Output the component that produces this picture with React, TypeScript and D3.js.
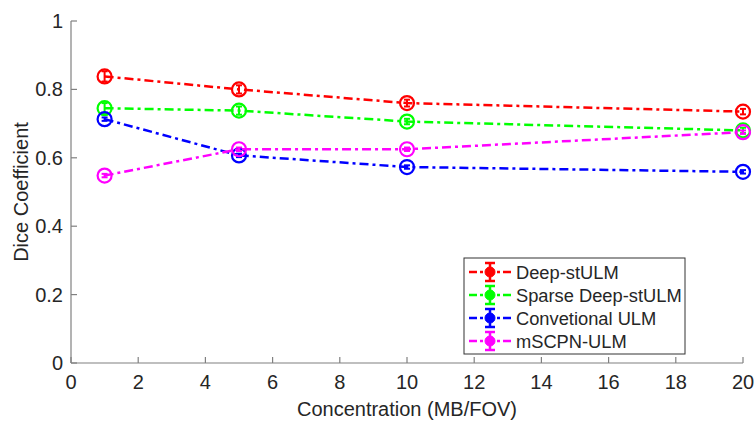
import React from "react";
import * as d3 from "d3";

const concentrations = [1, 5, 10, 20];
const seriesNames = ["Deep-stULM", "Sparse Deep-stULM", "Convetional ULM", "mSCPN-ULM"];
const seriesColors = ["#ff0000", "#00ff00", "#0000ff", "#ff00ff"];
const deepStULM = [0.838, 0.800, 0.760, 0.735];
const sparseDeepStULM = [0.745, 0.738, 0.706, 0.680];
const conventionalULM = [0.713, 0.607, 0.573, 0.559];
const mscpnULM = [0.548, 0.625, 0.625, 0.675];
const deepErr = [0.015, 0.012, 0.010, 0.008];
const sparseErr = [0.015, 0.012, 0.008, 0.008];
const convErr = [0.005, 0.005, 0.005, 0.005];
const mscpnErr = [0.005, 0.005, 0.005, 0.005];
const xTicks = [0, 2, 4, 6, 8, 10, 12, 14, 16, 18, 20];
const yTicks = [0, 0.2, 0.4, 0.6, 0.8, 1];

const allValues = [deepStULM, sparseDeepStULM, conventionalULM, mscpnULM];
const allErrs = [deepErr, sparseErr, convErr, mscpnErr];

const W = 756, H = 423;
const m = { left: 71, right: 13, top: 21, bottom: 60 };
const font = "'Liberation Sans', Arial, sans-serif";
const textColor = "#262626";
const axisColor = "#808080";

export default function App() {
  const x = d3.scaleLinear().domain([0, 20]).range([m.left, W - m.right]);
  const y = d3.scaleLinear().domain([0, 1]).range([H - m.bottom, m.top]);
  const line = d3.line<number>().x((_, i) => x(concentrations[i])).y((d) => y(d));
  const dash = "9,4,3,4";
  const r = 7;
  const legendX = 464, legendY = 258, legendW = 221, legendH = 96;
  return (
    <svg width={W} height={H} style={{ position: "absolute", left: 0, top: 0, background: "#fff" }}>
      {/* axes */}
      <line x1={x(0)} x2={x(20)} y1={y(0)} y2={y(0)} stroke={axisColor} strokeWidth={1.2} />
      <line x1={x(0)} x2={x(0)} y1={y(0)} y2={y(1)} stroke={axisColor} strokeWidth={1.2} />
      {xTicks.map((t) => (
        <g key={"x" + t}>
          <line x1={x(t)} x2={x(t)} y1={y(0)} y2={y(0) - 6} stroke={axisColor} strokeWidth={1.2} />
          <text x={x(t)} y={y(0) + 26} textAnchor="middle" fontFamily={font} fontSize={20} fill={textColor}>{t}</text>
        </g>
      ))}
      {yTicks.map((t) => (
        <g key={"y" + t}>
          <line x1={x(0)} x2={x(0) + 6} y1={y(t)} y2={y(t)} stroke={axisColor} strokeWidth={1.2} />
          <text x={x(0) - 8} y={y(t) + 7} textAnchor="end" fontFamily={font} fontSize={20} fill={textColor}>{t}</text>
        </g>
      ))}
      <text x={(x(0) + x(20)) / 2} y={416} textAnchor="middle" fontFamily={font} fontSize={20} fill={textColor}>Concentration (MB/FOV)</text>
      <text transform={`translate(28,${(y(0) + y(1)) / 2}) rotate(-90)`} textAnchor="middle" fontFamily={font} fontSize={20} fill={textColor}>Dice Coefficient</text>
      {/* series */}
      {allValues.map((vals, si) => (
        <g key={"s" + si}>
          <path d={line(vals) || ""} fill="none" stroke={seriesColors[si]} strokeWidth={2.5} strokeDasharray={dash} />
          {vals.map((v, i) => {
            const e = allErrs[si][i];
            const cx = x(concentrations[i]);
            return (
              <g key={i}>
                <line x1={cx} x2={cx} y1={y(v - e)} y2={y(v + e)} stroke={seriesColors[si]} strokeWidth={2} />
                <line x1={cx - 3} x2={cx + 3} y1={y(v - e)} y2={y(v - e)} stroke={seriesColors[si]} strokeWidth={2} />
                <line x1={cx - 3} x2={cx + 3} y1={y(v + e)} y2={y(v + e)} stroke={seriesColors[si]} strokeWidth={2} />
                <circle cx={cx} cy={y(v)} r={r} fill="none" stroke={seriesColors[si]} strokeWidth={2.2} />
              </g>
            );
          })}
        </g>
      ))}
      {/* legend */}
      <rect x={legendX} y={legendY} width={legendW} height={legendH} fill="#fff" stroke="#333" strokeWidth={1} />
      {seriesNames.map((n, i) => {
        const ly = legendY + 14 + i * 23;
        const c = seriesColors[i];
        return (
          <g key={"l" + i}>
            <line x1={legendX + 5} x2={legendX + 47} y1={ly} y2={ly} stroke={c} strokeWidth={2.5} strokeDasharray="8,3,3,3" />
            <line x1={legendX + 26} x2={legendX + 26} y1={ly - 9} y2={ly + 9} stroke={c} strokeWidth={2.5} />
            <line x1={legendX + 21} x2={legendX + 31} y1={ly - 9} y2={ly - 9} stroke={c} strokeWidth={2.5} />
            <line x1={legendX + 21} x2={legendX + 31} y1={ly + 9} y2={ly + 9} stroke={c} strokeWidth={2.5} />
            <circle cx={legendX + 26} cy={ly} r={5} fill={c} stroke={c} />
            <text x={legendX + 52} y={ly + 6.5} fontFamily={font} fontSize={18.3} fill={textColor}>{n}</text>
          </g>
        );
      })}
    </svg>
  );
}
